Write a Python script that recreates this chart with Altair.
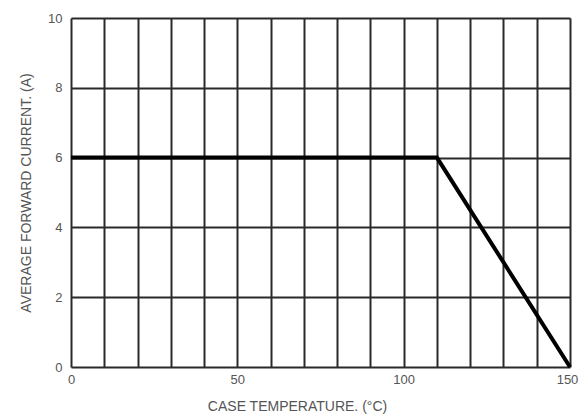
import altair as alt
import pandas as pd

# Derating curve: case temperature (°C) vs average forward current (A)
temps = [0, 110, 150]
currents = [6, 6, 0]

x_grid = list(range(0, 151, 10))
y_grid = list(range(0, 11, 2))

df = pd.DataFrame({"temp": temps, "current": currents})

FONT = "Liberation Sans"
TXT = "#555555"
GRID = "#2a2a2a"

chart = alt.Chart(df).mark_line(color="black", strokeWidth=4, strokeJoin="miter").encode(
    x=alt.X(
        "temp:Q",
        scale=alt.Scale(domain=[0, 150], nice=False, zero=False),
        axis=alt.Axis(
            values=x_grid,
            labelExpr="datum.value % 50 == 0 ? datum.label : ''",
            labelOffset=alt.ExprRef(expr="datum.value == 150 ? -3 : 0"),
            title="CASE TEMPERATURE. (°C)",
            grid=True, gridColor=GRID, gridWidth=2, gridOpacity=1,
            ticks=False, domain=False,
            labelFont=FONT, labelFontSize=13, labelColor=TXT, labelPadding=6,
            labelFlush=False,
            titleFont=FONT, titleFontSize=14, titleFontWeight="normal",
            titleColor=TXT, titlePadding=13, titleX=226,
        ),
    ),
    y=alt.Y(
        "current:Q",
        scale=alt.Scale(domain=[0, 10], nice=False, zero=True),
        axis=alt.Axis(
            values=y_grid,
            title="AVERAGE FORWARD CURRENT. (A)",
            grid=True, gridColor=GRID, gridWidth=2, gridOpacity=1,
            ticks=False, domain=False,
            labelFont=FONT, labelFontSize=13, labelColor=TXT, labelPadding=9,
            titleFont=FONT, titleFontSize=14, titleFontWeight="normal",
            titleColor=TXT, titlePadding=14,
        ),
    ),
).properties(
    width=499,
    height=349,
    autosize=alt.AutoSizeParams(type="none"),
    padding={"left": 63, "top": 10, "right": 10, "bottom": 50},
).configure_view(
    stroke=GRID, strokeWidth=2
).configure(background="white")

chart.save("out.html", embed_options={"renderer": "svg", "actions": False})
